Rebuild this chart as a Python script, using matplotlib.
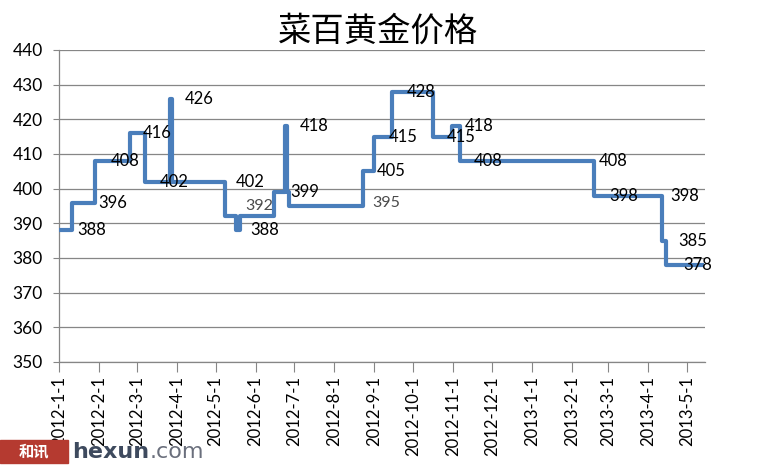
import matplotlib
matplotlib.use("Agg")
import matplotlib.pyplot as plt
from matplotlib.patches import Rectangle
import pandas as pd

plt.rcParams['font.family'] = ['Lato', 'DejaVu Sans']

# ---- data ----
step_dates = ['2012-01-01', '2012-01-11', '2012-01-29', '2012-02-25', '2012-03-07',
              '2012-03-27', '2012-03-28', '2012-05-08', '2012-05-17', '2012-05-20',
              '2012-06-15', '2012-06-24', '2012-06-25', '2012-06-27', '2012-08-23',
              '2012-09-01', '2012-09-15', '2012-10-16', '2012-10-31', '2012-11-06',
              '2013-02-18', '2013-04-12', '2013-04-15', '2013-05-13']
step_prices = [388, 396, 408, 416, 402, 426, 402, 392, 388, 392, 399, 418, 399, 395,
               405, 415, 428, 415, 418, 408, 398, 385, 378, 378]

label_dates = ['2012-01-15', '2012-01-31', '2012-02-10', '2012-03-06', '2012-03-19',
               '2012-04-07', '2012-05-17', '2012-05-24', '2012-05-28', '2012-06-28',
               '2012-07-05', '2012-08-30', '2012-09-03', '2012-09-12', '2012-09-26',
               '2012-10-27', '2012-11-10', '2012-11-17', '2013-02-22', '2013-03-02',
               '2013-04-18', '2013-04-24', '2013-04-28']
label_values = [388, 396, 408, 416, 402, 426, 402, 392, 388, 399, 418, 395, 405, 415,
                428, 415, 418, 408, 408, 398, 398, 385, 378]
label_dy_px = [0, 0, 0, 0, 0, 0, 0, 10, 0, 0, 0, 3, 0, 0, 0, 0, 0, 0, 0, 0, 0, 0, 0]
label_is_gray = [False] * 7 + [True] + [False] * 3 + [True] + [False] * 11

tick_months = pd.date_range('2012-01-01', '2013-05-01', freq='MS')
y_ticks = list(range(350, 441, 10))

title = '菜百黄金价格'

# ---- figure ----
fig = plt.figure(figsize=(7.58, 4.71), dpi=100)
ax = fig.add_axes([59.3 / 758, 1 - 362 / 471, (705 - 59.3) / 758, (362 - 50) / 471])

x = pd.to_datetime(step_dates)
ax.step(x, step_prices, where='post', color='#4A7EBB', lw=3.0, zorder=3)

offset = matplotlib.transforms.offset_copy
for d, v, dy, gray in zip(pd.to_datetime(label_dates), label_values, label_dy_px, label_is_gray):
    tr = offset(ax.transData, fig=fig, x=0, y=dy * 72 / 100, units='points')
    ax.text(d, v, str(v), transform=tr, ha='left', va='center',
            fontsize=11.5 if gray else 12,
            color='#4a4a4a' if gray else 'black', zorder=4)

ax.set_xlim(pd.Timestamp('2012-01-01'), pd.Timestamp('2013-05-15'))
ax.set_ylim(350, 440)
ax.set_yticks(y_ticks)
ax.set_xticks(tick_months)
ax.set_xticklabels([f'{d.year}-{d.month}-{d.day}' for d in tick_months],
                   rotation=90, fontsize=12)
ax.tick_params(axis='y', labelsize=12.5, length=4, color='#868686', pad=8)
ax.tick_params(axis='x', length=7, color='#868686', pad=3)

ax.grid(axis='y', color='#868686', lw=0.9)
ax.set_axisbelow(True)
for s in ['top', 'right']:
    ax.spines[s].set_visible(False)
for s in ['left', 'bottom']:
    ax.spines[s].set_color('#868686')
    ax.spines[s].set_linewidth(0.9)

fig.text(378 / 758, 1 - 31 / 471, title, ha='center', va='center', fontsize=24,
         family=['Noto Sans CJK SC', 'DejaVu Sans'])

# watermark
fig.patches.append(Rectangle((0, 1 - 463 / 471), 68 / 758, 23 / 471,
                             transform=fig.transFigure, color='#b53a30', zorder=10))
fig.text(34 / 758, 1 - 451 / 471, '和讯', ha='center', va='center', fontsize=11,
         color='white', weight='bold', family=['Noto Sans CJK SC', 'DejaVu Sans'], zorder=11)
hx = fig.text(72 / 758, 1 - 452 / 471, 'hexun', ha='left', va='center', fontsize=16,
              color='#3e4a5e', weight='bold', family=['DejaVu Sans'], zorder=11)
fig.texts.append(matplotlib.text.Annotation('.com', xy=(1.0, 0.5), xycoords=hx,
                                            ha='left', va='center', fontsize=16,
                                            color='#6a6f7c', family=['DejaVu Sans'],
                                            zorder=11))
fig.texts[-1].set_figure(fig)

fig.savefig('out.png', dpi=100)
